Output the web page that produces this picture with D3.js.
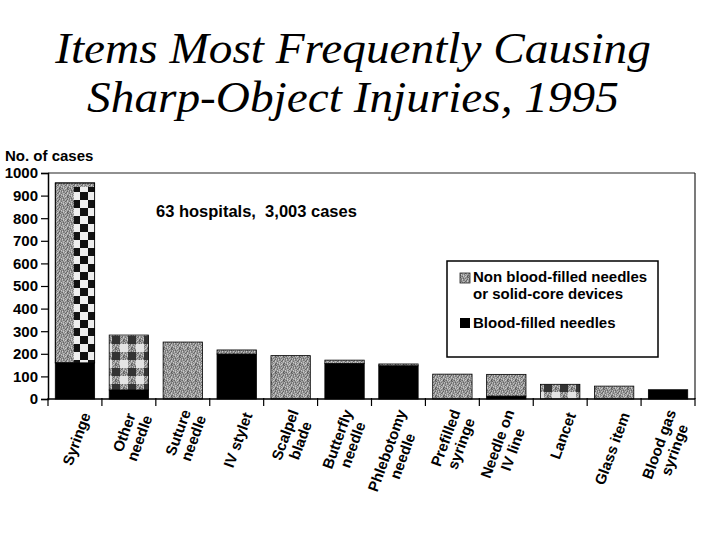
<!DOCTYPE html>
<html>
<head>
<meta charset="utf-8">
<script src="https://cdn.jsdelivr.net/npm/d3@7/dist/d3.min.js"></script>
<style>
  html, body { margin: 0; padding: 0; background: #fff; }
  svg { display: block; }
  text { font-family: "Liberation Sans", Arial, Helvetica, sans-serif; font-weight: bold; fill: #000; }
  text.title { font-family: "Liberation Serif", "Times New Roman", serif; font-style: italic; font-weight: normal; }
</style>
</head>
<body>
<svg id="chart" width="720" height="540"></svg>
<script>
// ---- data ----
const titleLines = ["Items Most Frequently Causing", "Sharp-Object Injuries, 1995"];
const categories = ["Syringe", "Other needle", "Suture needle", "IV stylet", "Scalpel blade",
  "Butterfly needle", "Phlebotomy needle", "Prefilled syringe", "Needle on IV line",
  "Lancet", "Glass item", "Blood gas syringe"];
const tickLabelLines = [["Syringe"], ["Other", "needle"], ["Suture", "needle"], ["IV stylet"],
  ["Scalpel", "blade"], ["Butterfly", "needle"], ["Phlebotomy", "needle"], ["Prefilled", "syringe"],
  ["Needle on", "IV line"], ["Lancet"], ["Glass item"], ["Blood gas", "syringe"]];
const bloodFilled    = [160, 40,   0, 199,   0, 157, 147,   0, 13,  0,  0, 41];
const nonBloodFilled = [796, 243, 252, 18, 192,  15,   8, 110, 96, 65, 57,  0];
const yTicks = [0, 100, 200, 300, 400, 500, 600, 700, 800, 900, 1000];
const yAxisTitle = "No. of cases";
const note = "63 hospitals,  3,003 cases";
const seriesNames = ["Non blood-filled needles|or solid-core devices", "Blood-filled needles"];

// ---- style (texture per bar) ----
const textureFor = { "Syringe": "split", "Other needle": "mix", "Lancet": "mix" };

const svg = d3.select("#chart");
const defs = svg.append("defs");

// speckled gray texture
const speck = ["8a6b98a7", "a68c979b", "7b9a8c8a", "98b76a9c", "8ca5986b", "b9876a98", "97a8b796", "8b96a7c8"];
const pSpeck = defs.append("pattern").attr("id", "speckle").attr("patternUnits", "userSpaceOnUse")
  .attr("width", 8).attr("height", 8);
speck.forEach((row, j) => row.split("").forEach((ch, i) => {
  const v = parseInt(ch, 16) * 17;
  pSpeck.append("rect").attr("x", i).attr("y", j).attr("width", 1).attr("height", 1)
    .attr("fill", d3.rgb(v, v, v));
}));
// checker texture
const pCheck = defs.append("pattern").attr("id", "checker").attr("patternUnits", "userSpaceOnUse")
  .attr("width", 16).attr("height", 16);
pCheck.append("rect").attr("width", 16).attr("height", 16).attr("fill", "#eeeeee");
pCheck.append("rect").attr("x", 0).attr("y", 0).attr("width", 8).attr("height", 8).attr("fill", "#111");
pCheck.append("rect").attr("x", 8).attr("y", 8).attr("width", 8).attr("height", 8).attr("fill", "#111");
// mixed checker (gray / black / white)
const pMix = defs.append("pattern").attr("id", "mix").attr("patternUnits", "userSpaceOnUse")
  .attr("width", 16).attr("height", 16);
pMix.append("rect").attr("width", 16).attr("height", 16).attr("fill", "url(#speckle)");
pMix.append("rect").attr("x", 0).attr("y", 0).attr("width", 8).attr("height", 8).attr("fill", "#333");
pMix.append("rect").attr("x", 8).attr("y", 8).attr("width", 8).attr("height", 8).attr("fill", "#e4e4e4");

// ---- title ----
const titleX = 353, titleScaleX = 1.075;
svg.append("g").attr("transform", `translate(${titleX},0) scale(${titleScaleX},1)`)
  .selectAll("text").data(titleLines).join("text")
  .attr("class", "title")
  .attr("text-anchor", "middle")
  .style("font-size", "44px")
  .attr("x", 0).attr("y", (d, i) => 63 + i * 49)
  .text(d => d);

// ---- scales ----
const x = d3.scaleBand().domain(categories).range([48, 695]).paddingInner(0.27).paddingOuter(0.135);
const y = d3.scaleLinear().domain([0, 1000]).range([399, 173]);
const step = x.step(), bw = x.bandwidth();
const edge = c => x(c) - (step - bw) / 2;

const rows = categories.map((c, i) => ({ cat: c, blood: bloodFilled[i], non: nonBloodFilled[i] }));
const stack = d3.stack().keys(["blood", "non"])(rows);

// ---- bars ----
const gBars = svg.append("g");
gBars.selectAll("rect.blood").data(stack[0].filter(d => d[1] > d[0])).join("rect")
  .attr("class", "blood")
  .attr("x", d => x(d.data.cat)).attr("width", bw)
  .attr("y", d => y(d[1])).attr("height", d => y(d[0]) - y(d[1]))
  .attr("fill", "#000").attr("stroke", "#000").attr("stroke-width", 0.8);
const nonSeg = stack[1].filter(d => d[1] > d[0]);
gBars.selectAll("rect.non").data(nonSeg).join("rect")
  .attr("class", "non")
  .attr("x", d => x(d.data.cat)).attr("width", bw)
  .attr("y", d => y(d[1])).attr("height", d => y(d[0]) - y(d[1]))
  .attr("fill", d => textureFor[d.data.cat] === "mix" ? "url(#mix)" : "url(#speckle)")
  .attr("stroke", "#000").attr("stroke-width", 0.8);
gBars.selectAll("rect.split").data(nonSeg.filter(d => textureFor[d.data.cat] === "split")).join("rect")
  .attr("class", "split")
  .attr("x", d => x(d.data.cat) + bw * 0.47).attr("width", bw * 0.53)
  .attr("y", d => y(d[1]) + 4).attr("height", d => y(d[0]) - y(d[1]) - 4)
  .attr("fill", "url(#checker)");
gBars.selectAll("rect.outline").data(nonSeg.filter(d => textureFor[d.data.cat] === "split")).join("rect")
  .attr("class", "outline")
  .attr("x", d => x(d.data.cat)).attr("width", bw)
  .attr("y", d => y(d[1])).attr("height", d => y(d[0]) - y(d[1]))
  .attr("fill", "none").attr("stroke", "#000").attr("stroke-width", 0.8);

// ---- frame ----
const [x0, x1] = x.range();
svg.append("line").attr("x1", x0).attr("x2", x1).attr("y1", y(1000)).attr("y2", y(1000))
  .attr("stroke", "#222").attr("stroke-width", 1.2);
svg.append("line").attr("x1", x1).attr("x2", x1).attr("y1", y(1000)).attr("y2", y(0))
  .attr("stroke", "#222").attr("stroke-width", 1.2);

// ---- y axis ----
const yAxis = d3.axisLeft(y).tickValues(yTicks).tickSize(7).tickPadding(3).tickFormat(d3.format("d"));
const gy = svg.append("g").attr("transform", `translate(${x0},0)`).call(yAxis);
gy.select(".domain").attr("stroke", "#000").attr("stroke-width", 1.5);
gy.selectAll(".tick line").attr("stroke", "#000").attr("stroke-width", 1.2);
gy.selectAll(".tick text").style("font-size", "15px").attr("fill", "#000");

svg.append("text").attr("x", 5).attr("y", 161).style("font-size", "15px").text(yAxisTitle);

// ---- x axis ----
svg.append("line").attr("x1", x0).attr("x2", x1).attr("y1", y(0)).attr("y2", y(0))
  .attr("stroke", "#000").attr("stroke-width", 1.5);
const edges = categories.map(edge).concat([x1]);
svg.append("g").selectAll("line").data(edges).join("line")
  .attr("x1", d => d).attr("x2", d => d).attr("y1", y(0) - 1).attr("y2", y(0) + 7)
  .attr("stroke", "#000").attr("stroke-width", 1.2);

const gl = svg.append("g").selectAll("g").data(categories).join("g")
  .attr("transform", c => `translate(${x(c) + bw / 2 + 11},413) rotate(-70)`);
gl.each(function (c, i) {
  const lines = tickLabelLines[i];
  const g = d3.select(this);
  const n = lines.length;
  const texts = lines.map((t, k) => g.append("text")
    .style("font-size", "15px")
    .attr("text-anchor", "middle")
    .attr("y", (k - (n - 1) / 2) * 16.4)
    .attr("dy", "0.35em")
    .text(t));
  const maxW = d3.max(texts, t => t.node().getComputedTextLength());
  texts.forEach(t => t.attr("x", -maxW / 2));
});

// ---- annotation ----
svg.append("text").attr("x", 156).attr("y", 217).style("font-size", "16.5px")
  .style("white-space", "pre").attr("xml:space", "preserve").text(note);

// ---- legend ----
const lg = svg.append("g");
lg.append("rect").attr("x", 447).attr("y", 261).attr("width", 211).attr("height", 96)
  .attr("fill", "#fff").attr("stroke", "#000").attr("stroke-width", 1.5);
lg.append("rect").attr("x", 460).attr("y", 273).attr("width", 10).attr("height", 10)
  .attr("fill", "url(#speckle)").attr("stroke", "#222").attr("stroke-width", 0.8);
const l1 = seriesNames[0].split("|");
lg.selectAll("text.l1").data(l1).join("text").attr("class", "l1")
  .attr("x", 473).attr("y", (d, i) => 282 + i * 16.5).style("font-size", "15px").text(d => d);
lg.append("rect").attr("x", 460).attr("y", 318).attr("width", 10).attr("height", 10).attr("fill", "#000");
lg.append("text").attr("x", 473).attr("y", 328).style("font-size", "15px").text(seriesNames[1]);
</script>
</body>
</html>
